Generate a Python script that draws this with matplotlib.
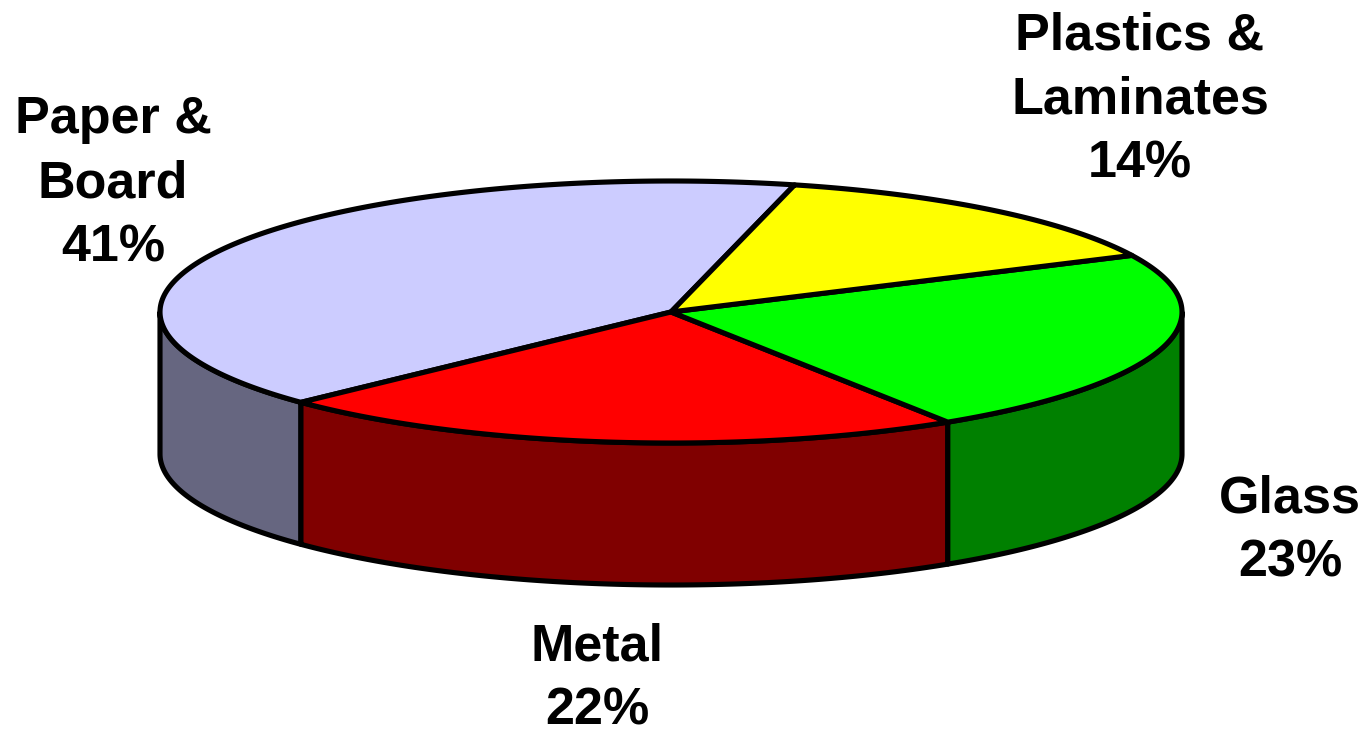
import numpy as np
import matplotlib
matplotlib.use("Agg")
import matplotlib.pyplot as plt
from matplotlib.patches import Polygon

# data
labels = ["Paper &\nBoard", "Metal", "Glass", "Plastics &\nLaminates"]
values = [41, 22, 23, 14]
top_colors = ["#CCCCFF", "#FF0000", "#00FF00", "#FFFF00"]
side_colors = ["#666680", "#800000", "#008000", "#808000"]
label_pos = [(113, 184), (597, 679), (1290, 531), (1140, 100)]

# geometry of the pie (pixel space)
cx, cy = 671, 312
rx, ry = 511, 131
depth = 142
start = 76.0  # degrees, counter-clockwise order
lw = 3.7

fig = plt.figure(figsize=(13.65, 7.33), dpi=100)
ax = fig.add_axes([0, 0, 1, 1])
ax.set_xlim(0, 1365)
ax.set_ylim(733, 0)
ax.axis("off")


def arc(t1, t2, dy=0, n=200):
    t = np.radians(np.linspace(t1, t2, n))
    return np.column_stack([cx + rx * np.cos(t), cy - ry * np.sin(t) + dy])


fracs = np.array(values) / sum(values) * 360
bounds = start + np.concatenate([[0], np.cumsum(fracs)])

# side walls (front half only: 180..360)
for i in range(len(values)):
    a1, a2 = bounds[i], bounds[i + 1]
    for off in (0, 360, -360):
        s1, s2 = max(a1 + off, 180), min(a2 + off, 360)
        if s2 > s1:
            pts = np.vstack([arc(s1, s2), arc(s2, s1, depth)])
            ax.add_patch(Polygon(pts, closed=True, facecolor=side_colors[i],
                                 edgecolor="black", lw=lw, joinstyle="round", zorder=2))

# top face wedges
for i in range(len(values)):
    pts = np.vstack([[cx, cy], arc(bounds[i], bounds[i + 1])])
    ax.add_patch(Polygon(pts, closed=True, facecolor=top_colors[i],
                         edgecolor="black", lw=lw, joinstyle="round", zorder=3))

for lab, v, (x, y) in zip(labels, values, label_pos):
    ax.text(x, y, f"{lab}\n{v}%", ha="center", va="center", fontsize=37.5,
            fontweight="bold", family="Liberation Sans", linespacing=1.4)

fig.savefig("out.png", dpi=100)
